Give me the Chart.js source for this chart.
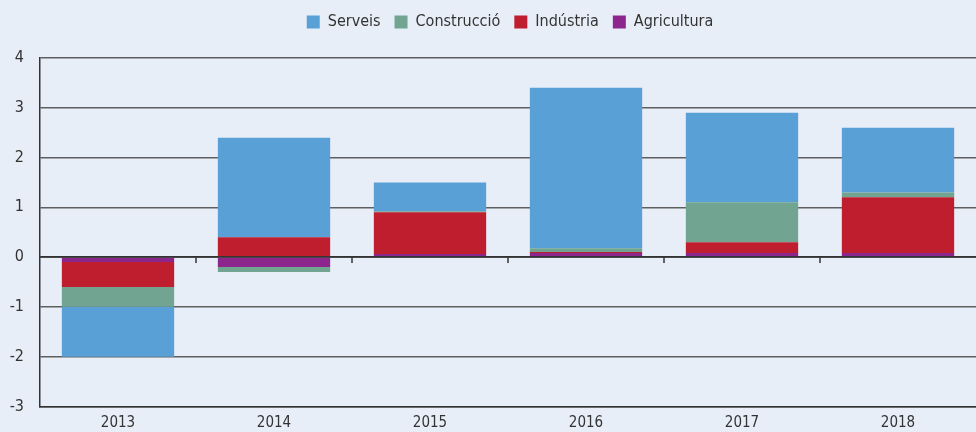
<!DOCTYPE html>
<html lang="ca">
<head>
<meta charset="UTF-8">
<title>Contribucions sectorials</title>
<script src="https://cdn.jsdelivr.net/npm/chart.js@4"></script>
<style>
  html, body { margin: 0; padding: 0; background: #e8eef8; }
  #wrap { width: 976px; height: 432px; }
</style>
</head>
<body>
<div id="wrap"><canvas id="myChart" width="976" height="432"></canvas></div>
<script>
// dades
const anys = ['2013', '2014', '2015', '2016', '2017', '2018'];
const agricultura = [-0.1, -0.2, 0.06, 0.08, 0.08, 0.08];
const industria   = [-0.5, 0.4, 0.84, 0.02, 0.22, 1.12];
const construccio = [-0.4, -0.1, 0.02, 0.08, 0.8, 0.1];
const serveis     = [-1.0, 2.0, 0.58, 3.22, 1.8, 1.3];

const fontFam = '"DejaVu Sans Condensed", "Liberation Sans Narrow", "Liberation Sans", Arial, sans-serif';

// espai extra sota la llegenda i llegenda centrada sobre l'àrea del gràfic
const legendGap = {
  id: 'legendGap',
  afterInit(chart) {
    const lg = chart.legend;
    const origFit = lg.fit;
    lg.fit = function () {
      origFit.bind(lg)();
      this.height += 18;
    };
    const origDraw = lg.draw;
    lg.draw = function () {
      const c = chart.ctx;
      c.save();
      c.translate(22, 0);
      origDraw.bind(lg)();
      c.restore();
    };
  }
};

// petites marques sobre la línia del zero entre categories
const zeroTicks = {
  id: 'zeroTicks',
  afterDatasetsDraw(chart) {
    const ctx = chart.ctx, x = chart.scales.x, y = chart.scales.y;
    const y0 = y.getPixelForValue(0);
    ctx.save();
    ctx.strokeStyle = '#333';
    ctx.lineWidth = 1.5;
    for (let i = 1; i < anys.length; i++) {
      const px = (x.getPixelForValue(i - 1) + x.getPixelForValue(i)) / 2;
      ctx.beginPath();
      ctx.moveTo(px, y0);
      ctx.lineTo(px, y0 + 6);
      ctx.stroke();
    }
    ctx.beginPath();
    ctx.moveTo(chart.chartArea.left, y0);
    ctx.lineTo(chart.chartArea.right, y0);
    ctx.stroke();
    ctx.restore();
  }
};

const ctx = document.getElementById('myChart').getContext('2d');
new Chart(ctx, {
  type: 'bar',
  data: {
    labels: anys,
    datasets: [
      { label: 'Agricultura', data: agricultura, backgroundColor: '#8c268c' },
      { label: 'Indústria', data: industria, backgroundColor: '#be1e2d' },
      { label: 'Construcció', data: construccio, backgroundColor: '#71a592' },
      { label: 'Serveis', data: serveis, backgroundColor: '#58a0d5' }
    ]
  },
  options: {
    responsive: false,
    animation: false,
    layout: { padding: 0 },
    datasets: { bar: { categoryPercentage: 1.0, barPercentage: 0.72, borderWidth: 0 } },
    plugins: {
      tooltip: { enabled: false },
      legend: {
        reverse: true,
        labels: {
          boxWidth: 13, boxHeight: 13, padding: 14,
          color: '#333',
          font: { family: fontFam, size: 16 }
        }
      }
    },
    scales: {
      x: {
        stacked: true,
        afterFit(scale) { scale.height = 25; },
        grid: { display: false, drawTicks: false },
        border: { display: true, color: '#333', width: 1.5 },
        ticks: { color: '#333', padding: 8, font: { family: fontFam, size: 15 } }
      },
      y: {
        stacked: true,
        min: -3, max: 4,
        afterFit(scale) { scale.width = 40; },
        grid: {
          drawTicks: false,
          color: ctx => ctx.tick && ctx.tick.value === 0 ? '#333' : '#5e5e5e',
          lineWidth: 1.5
        },
        border: { display: true, color: '#333', width: 1.5 },
        ticks: { stepSize: 1, color: '#333', padding: 16, font: { family: fontFam, size: 16 } }
      }
    }
  },
  plugins: [legendGap, zeroTicks]
});
</script>
</body>
</html>
